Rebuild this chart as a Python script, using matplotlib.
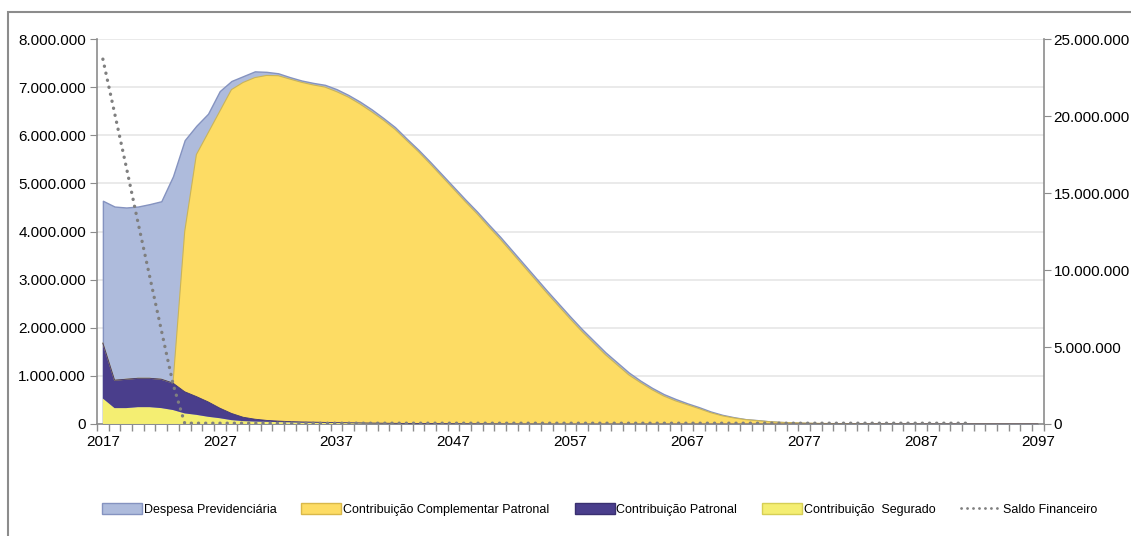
import matplotlib
matplotlib.use("Agg")
import matplotlib.pyplot as plt
from matplotlib.ticker import FuncFormatter, MultipleLocator
from matplotlib.patches import Rectangle, Patch
from matplotlib.lines import Line2D
import numpy as np

# --- Dados (em milhões) ---
anos = list(range(2017, 2098))

despesa = [4.64, 4.52, 4.50, 4.52, 4.57, 4.63, 5.15, 5.90, 6.20, 6.45,
           6.92, 7.13, 7.23, 7.33, 7.32, 7.29, 7.21, 7.14, 7.09, 7.05,
           6.96, 6.84, 6.70, 6.54, 6.36, 6.17, 5.93, 5.70, 5.45, 5.19,
           4.93, 4.67, 4.42, 4.15, 3.89, 3.61, 3.33, 3.05, 2.77, 2.50,
           2.23, 1.97, 1.73, 1.49, 1.28, 1.07, 0.90, 0.75, 0.62, 0.52,
           0.43, 0.35, 0.26, 0.19, 0.14, 0.10, 0.08, 0.055, 0.04, 0.03,
           0.022, 0.016, 0.012, 0.009, 0.007, 0.005, 0.004, 0.003, 0.002, 0.0015,
           0.001, 0.0007, 0.0005, 0.0003, 0.0002, 0.0001, 0.0, 0.0, 0.0, 0.0,
           0.0]

contrib_complementar = [0.0, 0.0, 0.0, 0.0, 0.0, 0.0, 0.0, 3.33, 5.03, 5.59,
                        6.17, 6.73, 6.96, 7.10, 7.17, 7.18, 7.12, 7.06, 7.01, 6.97,
                        6.88, 6.77, 6.63, 6.47, 6.30, 6.11, 5.88, 5.65, 5.40, 5.14,
                        4.88, 4.62, 4.37, 4.10, 3.84, 3.56, 3.28, 3.00, 2.72, 2.45,
                        2.18, 1.92, 1.68, 1.44, 1.23, 1.02, 0.86, 0.71, 0.58, 0.48,
                        0.40, 0.32, 0.235, 0.17, 0.125, 0.09, 0.07, 0.048, 0.035, 0.026,
                        0.019, 0.014, 0.010, 0.008, 0.006, 0.0045, 0.0035, 0.0025, 0.0018, 0.0013,
                        0.0009, 0.0006, 0.0004, 0.0003, 0.0002, 0.0001, 0.0, 0.0, 0.0, 0.0,
                        0.0]

contrib_patronal = [1.15, 0.58, 0.60, 0.60, 0.60, 0.60, 0.56, 0.45, 0.38, 0.31,
                    0.21, 0.14, 0.08, 0.05, 0.03, 0.02, 0.015, 0.012, 0.010, 0.008,
                    0.006, 0.005, 0.004, 0.003, 0.002, 0.002, 0.001, 0.001, 0.0, 0.0,
                    0.0, 0.0, 0.0, 0.0, 0.0, 0.0, 0.0, 0.0, 0.0, 0.0,
                    0.0, 0.0, 0.0, 0.0, 0.0, 0.0, 0.0, 0.0, 0.0, 0.0,
                    0.0, 0.0, 0.0, 0.0, 0.0, 0.0, 0.0, 0.0, 0.0, 0.0,
                    0.0, 0.0, 0.0, 0.0, 0.0, 0.0, 0.0, 0.0, 0.0, 0.0,
                    0.0, 0.0, 0.0, 0.0, 0.0, 0.0, 0.0, 0.0, 0.0, 0.0,
                    0.0]

contrib_segurado = [0.53, 0.33, 0.33, 0.35, 0.35, 0.33, 0.29, 0.22, 0.19, 0.15,
                    0.12, 0.08, 0.06, 0.05, 0.045, 0.04, 0.035, 0.03, 0.028, 0.025,
                    0.022, 0.02, 0.018, 0.016, 0.014, 0.012, 0.010, 0.009, 0.008, 0.007,
                    0.006, 0.005, 0.004, 0.003, 0.002, 0.002, 0.001, 0.001, 0.0, 0.0,
                    0.0, 0.0, 0.0, 0.0, 0.0, 0.0, 0.0, 0.0, 0.0, 0.0,
                    0.0, 0.0, 0.0, 0.0, 0.0, 0.0, 0.0, 0.0, 0.0, 0.0,
                    0.0, 0.0, 0.0, 0.0, 0.0, 0.0, 0.0, 0.0, 0.0, 0.0,
                    0.0, 0.0, 0.0, 0.0, 0.0, 0.0, 0.0, 0.0, 0.0, 0.0,
                    0.0]

# eixo secundário (milhões); sem dados após 2091
saldo_financeiro = [23.7, 20.2, 16.7, 13.1, 9.6, 6.1, 2.6, 0.05, 0.05, 0.05,
                    0.05, 0.05, 0.05, 0.05, 0.05, 0.05, 0.05, 0.05, 0.05, 0.05,
                    0.05, 0.05, 0.05, 0.05, 0.05, 0.05, 0.05, 0.05, 0.05, 0.05,
                    0.05, 0.05, 0.05, 0.05, 0.05, 0.05, 0.05, 0.05, 0.05, 0.05,
                    0.05, 0.05, 0.05, 0.05, 0.05, 0.05, 0.05, 0.05, 0.05, 0.05,
                    0.05, 0.05, 0.05, 0.05, 0.05, 0.05, 0.05, 0.05, 0.05, 0.05,
                    0.05, 0.05, 0.05, 0.05, 0.05, 0.05, 0.05, 0.05, 0.05, 0.05,
                    0.05, 0.05, 0.05, 0.05, 0.05, None, None, None, None, None,
                    None]

rotulos_x = [2017, 2027, 2037, 2047, 2057, 2067, 2077, 2087, 2097]

# --- Estilo ---
plt.rcParams['font.family'] = ['Liberation Sans', 'DejaVu Sans']
cor_despesa = '#AEBBDC'
cor_complementar = '#FDDC64'
cor_patronal = '#4A3E8C'
cor_segurado = '#F4EE72'
cinza = '#8C8C8C'
tam_eixo = 11
pontilhado = (0, (0.05, 2.1))

x = np.array(anos)
mi = 1e6
desp = np.array(despesa) * mi
comp = np.array(contrib_complementar) * mi
patr = np.array(contrib_patronal) * mi
seg = np.array(contrib_segurado) * mi
saldo = np.array([np.nan if v is None else v for v in saldo_financeiro]) * mi

fig = plt.figure(figsize=(11.31, 5.36), dpi=100)
ax = fig.add_axes([0.0858, 0.209, 0.837, 0.718])

ax.fill_between(x, 0, desp, color=cor_despesa, edgecolor='#8593C0', linewidth=1.0,
                label='Despesa Previdenciária', zorder=2)
ax.stackplot(x, seg, patr, comp,
             colors=[cor_segurado, cor_patronal, cor_complementar],
             edgecolor='none', zorder=3)
# contornos suaves
ax.plot(x, seg + patr + comp, color='#C9B45A', linewidth=0.8, zorder=4)
ax.plot(x, seg + patr, color='#3A3070', linewidth=0.6, zorder=4)

ax.set_xlim(2016.5, 2097.5)
ax.set_ylim(0, 8e6)
ax.yaxis.set_major_locator(MultipleLocator(1e6))
fmt = FuncFormatter(lambda v, _: f"{int(round(v)):,}".replace(",", "."))
ax.yaxis.set_major_formatter(fmt)
ax.grid(axis='y', color='#E6E6E6', linewidth=1.2, zorder=0)
ax.set_axisbelow(True)

ax.set_xticks(rotulos_x)
ax.set_xticklabels([str(a) for a in rotulos_x])
ax.set_xticks(np.arange(2016.5, 2098, 1.0), minor=True)
ax.tick_params(axis='x', which='major', length=0, pad=8, labelsize=tam_eixo)
ax.tick_params(axis='x', which='minor', length=5, color=cinza, width=1)
ax.tick_params(axis='y', length=5, color=cinza, labelsize=tam_eixo, pad=3)

for lado in ['top', 'right']:
    ax.spines[lado].set_visible(False)
for lado in ['left', 'bottom']:
    ax.spines[lado].set_color(cinza)
    ax.spines[lado].set_linewidth(1.2)

ax2 = ax.twinx()
ax2.plot(x, saldo, color='#7F7F7F', linewidth=2.4, linestyle=pontilhado,
         dash_capstyle='round', label='Saldo Financeiro', zorder=5)
ax2.set_ylim(0, 25e6)
ax2.yaxis.set_major_locator(MultipleLocator(5e6))
ax2.yaxis.set_major_formatter(fmt)
ax2.tick_params(axis='y', length=5, color=cinza, labelsize=tam_eixo, pad=2)
for lado in ['top', 'left', 'bottom']:
    ax2.spines[lado].set_visible(False)
ax2.spines['right'].set_color(cinza)
ax2.spines['right'].set_linewidth(1.2)

# legenda
handles = [
    Patch(facecolor=cor_despesa, edgecolor='#8593C0', label='Despesa Previdenciária'),
    Patch(facecolor=cor_complementar, edgecolor='#D9B84A', label='Contribuição Complementar Patronal'),
    Patch(facecolor=cor_patronal, edgecolor='#3A3070', label='Contribuição Patronal'),
    Patch(facecolor=cor_segurado, edgecolor='#D6CF55', label='Contribuição  Segurado'),
    Line2D([0], [0], color='#7F7F7F', linewidth=2.0, linestyle=pontilhado,
           dash_capstyle='round', label='Saldo Financeiro'),
]
fig.legend(handles=handles, loc='center', bbox_to_anchor=(0.53, 0.05), ncol=5,
           frameon=False, fontsize=9, handlelength=3.2, handleheight=1.0,
           handletextpad=0.15, columnspacing=2.0)

# moldura externa do gráfico
fig.patches.append(Rectangle((0.007, -0.05), 1.2, 1.028, transform=fig.transFigure,
                             fill=False, edgecolor='#8C8C8C', linewidth=1.5))

fig.savefig('out.png', dpi=100)
